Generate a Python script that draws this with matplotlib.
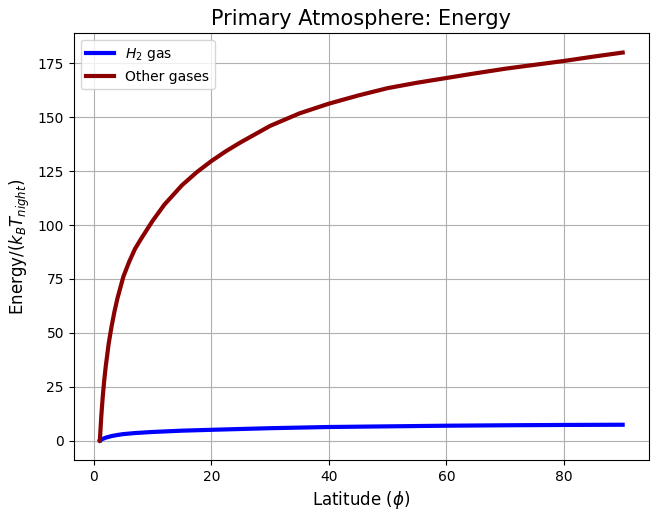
import matplotlib
matplotlib.use("Agg")
import matplotlib.pyplot as plt

# values
lat_other = [1, 1.25, 1.5, 1.75, 2, 2.5, 3, 3.5, 4, 5, 6, 7, 8, 10, 12, 15,
             17.5, 20, 22.5, 25, 30, 35, 40, 45, 50, 55, 60, 65, 70, 75, 80,
             85, 90]
energy_other = [0, 11.4, 20.5, 28, 34.3, 44.9, 53, 60, 66, 76, 83, 89, 93.5,
                102, 109.5, 118.5, 124.5, 129.7, 134.3, 138.4, 146, 151.8,
                156.3, 160.1, 163.5, 166, 168.2, 170.4, 172.5, 174.3, 176.1,
                178.1, 180]

lat_h2 = [1, 1.25, 1.5, 2, 3, 4, 5, 7, 10, 15, 20, 30, 40, 50, 60, 70, 80, 90]
energy_h2 = [0, 0.45, 0.8, 1.35, 2.1, 2.6, 3.0, 3.5, 4.0, 4.6, 5.0, 5.75, 6.3,
             6.6, 6.9, 7.1, 7.25, 7.35]

fig, ax = plt.subplots(figsize=(6.58, 5.18), dpi=100)
ax.plot(lat_h2, energy_h2, color='blue', linewidth=3, label=r'$H_2$ gas')
ax.plot(lat_other, energy_other, color='darkred', linewidth=3, label='Other gases')

ax.set_xlabel(r'Latitude ($\phi$)', fontsize=12)
ax.set_ylabel(r'Energy/($k_B T_{night}$)', fontsize=12)
ax.set_title('Primary Atmosphere: Energy', fontsize=15)
ax.grid(True)
ax.legend(loc='upper left')

fig.subplots_adjust(left=0.112, right=0.986, top=0.936, bottom=0.112)
fig.savefig("out.png", dpi=100)
